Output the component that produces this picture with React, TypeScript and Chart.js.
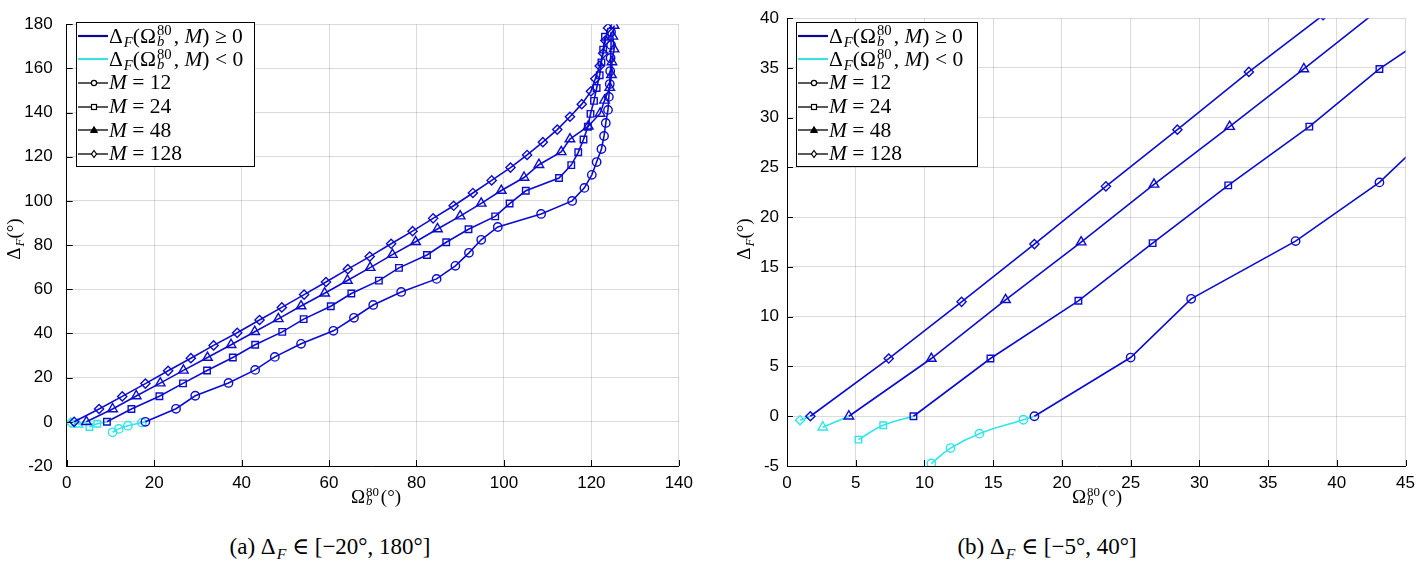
import React, { useEffect, useRef } from "react";
import { Chart, registerables } from "chart.js";
Chart.register(...registerables);

// ---------- data ----------
const m12X = [18.0, 25.0, 29.4, 37.0, 43.1, 47.6, 53.6, 61.0, 65.7, 70.1, 76.5, 84.6, 88.9, 92.0, 94.8, 98.6, 108.5, 115.6, 118.4, 120.1, 121.2, 122.3, 122.9, 123.3, 123.8, 124.0, 124.2, 124.3, 124.4, 124.5, 124.5];
const m12Y = [0, 5.9, 11.8, 17.6, 23.5, 29.4, 35.3, 41.2, 47.1, 52.9, 58.8, 64.7, 70.6, 76.5, 82.4, 88.2, 94.1, 100.0, 105.9, 111.8, 117.6, 123.5, 129.4, 135.3, 141.2, 147.1, 152.9, 158.8, 164.7, 170.6, 176.5];
const m24X = [9.2, 14.8, 21.2, 26.6, 32.1, 38.0, 43.1, 49.3, 54.2, 60.4, 65.1, 71.4, 76.0, 82.4, 86.8, 91.9, 98.0, 101.3, 105.0, 112.6, 115.4, 117.0, 118.2, 119.2, 119.8, 120.6, 121.2, 121.9, 122.3, 122.7, 123.1];
const m24Y = [0, 5.8, 11.6, 17.4, 23.2, 29.1, 34.9, 40.7, 46.5, 52.3, 58.1, 63.9, 69.7, 75.5, 81.3, 87.2, 93.0, 98.8, 104.6, 110.4, 116.2, 122.0, 127.8, 133.6, 139.4, 145.3, 151.1, 156.9, 162.7, 168.5, 174.3];
const m48X = [4.5, 10.5, 15.9, 21.4, 26.7, 32.2, 37.6, 43.0, 48.4, 53.6, 59.0, 64.2, 69.4, 74.5, 79.8, 84.8, 90.0, 94.8, 99.4, 104.6, 108.0, 113.1, 115.1, 119.3, 122.0, 123.0, 124.2, 124.6, 124.7, 125.2, 124.9, 125.2];
const m48Y = [0, 5.8, 11.7, 17.5, 23.3, 29.1, 34.9, 40.8, 46.6, 52.4, 58.2, 64.0, 69.8, 75.7, 81.5, 87.3, 93.1, 98.9, 104.7, 110.6, 116.4, 122.2, 128.0, 133.8, 139.6, 145.5, 151.3, 157.1, 162.9, 168.7, 174.5, 179.4];
const m128X = [1.7, 7.4, 12.7, 18.0, 23.2, 28.4, 33.6, 39.0, 44.1, 49.2, 54.3, 59.3, 64.3, 69.3, 74.2, 79.1, 83.8, 88.5, 92.9, 97.2, 101.5, 105.3, 108.9, 112.2, 115.1, 117.8, 119.9, 120.9, 121.9, 122.7, 123.2, 123.8];
const m128Y = [0, 5.8, 11.5, 17.3, 23.1, 28.8, 34.6, 40.3, 46.1, 51.8, 57.6, 63.3, 69.1, 74.8, 80.6, 86.3, 92.1, 97.8, 103.6, 109.3, 115.1, 120.8, 126.6, 132.3, 138.1, 143.8, 149.6, 155.3, 161.1, 166.8, 172.6, 178.3];

const m12NegX = [10.5, 11.9, 14.0, 17.2, 18.0];
const m12NegY = [-4.75, -3.2, -1.75, -0.35, 0];
const m24NegX = [5.2, 7.0, 9.2];
const m24NegY = [-2.35, -0.9, 0];
const m48NegX = [2.6, 4.5];
const m48NegY = [-1.1, 0];
const m128NegX = [0.95, 1.7];
const m128NegY = [-0.4, 0];

const leftXTicks = [0, 20, 40, 60, 80, 100, 120, 140];
const leftYTicks = [-20, 0, 20, 40, 60, 80, 100, 120, 140, 160, 180];
const rightXTicks = [0, 5, 10, 15, 20, 25, 30, 35, 40, 45];
const rightYTicks = [-5, 0, 5, 10, 15, 20, 25, 30, 35, 40];

const mLabels = ["12", "24", "48", "128"];

// ---------- styles ----------
const BLUE = "#0c0cd0";
const CYAN = "#30e6e6";
const LEG_BLUE = "#0a0a90";
const LEG_CYAN = "#40e0e0";
const GRID = "rgba(0,0,0,0.14)";
const SERIF = '"Liberation Serif", "DejaVu Serif", serif';
const SANS = '"Liberation Sans", Arial, sans-serif';

const series = [
  { x: m12X, y: m12Y, nx: m12NegX, ny: m12NegY, style: "circle", r: 4.2 },
  { x: m24X, y: m24Y, nx: m24NegX, ny: m24NegY, style: "rect", r: 4.6 },
  { x: m48X, y: m48Y, nx: m48NegX, ny: m48NegY, style: "triangle", r: 5.5 },
  { x: m128X, y: m128Y, nx: m128NegX, ny: m128NegY, style: "rectRot", r: 4.6 },
];

const inwardTicks = {
  id: "inwardTicks",
  afterDraw(chart: any) {
    const { ctx, chartArea: a, scales } = chart;
    ctx.save();
    ctx.strokeStyle = "#000";
    ctx.lineWidth = 1;
    ctx.beginPath();
    scales.x.ticks.forEach((t: any) => {
      const px = Math.round(scales.x.getPixelForValue(t.value)) + 0.5;
      ctx.moveTo(px, a.bottom);
      ctx.lineTo(px, a.bottom - 6);
    });
    scales.y.ticks.forEach((t: any) => {
      const py = Math.round(scales.y.getPixelForValue(t.value)) + 0.5;
      ctx.moveTo(a.left, py);
      ctx.lineTo(a.left + 6, py);
    });
    ctx.stroke();
    ctx.restore();
  },
};

function buildConfig(xmin: number, xmax: number, xt: number[], ymin: number, ymax: number, yt: number[], yAxisW: number, labelPad: number, padRight: number) {
  const datasets: any[] = [];
  series.forEach((s) => {
    datasets.push({
      data: s.x.map((x, i) => ({ x, y: s.y[i] })),
      showLine: true,
      borderColor: BLUE,
      borderWidth: 1.6,
      pointStyle: s.style,
      pointRadius: s.r,
      pointBorderColor: BLUE,
      pointBackgroundColor: "rgba(0,0,0,0)",
      pointBorderWidth: 1.4,
      tension: 0,
      order: 0,
    });
  });
  series.forEach((s) => {
    const n = s.nx.length;
    datasets.push({
      data: s.nx.map((x, i) => ({ x, y: s.ny[i] })),
      showLine: true,
      borderColor: CYAN,
      borderWidth: 1.6,
      pointStyle: s.style,
      pointRadius: (c: any) => (c.dataIndex === n - 1 ? 0 : s.r),
      pointBorderColor: CYAN,
      pointBackgroundColor: "rgba(0,0,0,0)",
      pointBorderWidth: 1.4,
      tension: 0.4,
      order: 1,
    });
  });
  return {
    type: "scatter",
    data: { datasets },
    plugins: [inwardTicks],
    options: {
      animation: false,
      responsive: false,
      events: [],
      layout: { padding: { top: 12, right: padRight, left: 0, bottom: 0 } },
      plugins: { legend: { display: false }, tooltip: { enabled: false } },
      scales: {
        x: {
          type: "linear",
          min: xmin,
          max: xmax,
          afterFit: (sc: any) => { sc.height = 54; },
          afterBuildTicks: (sc: any) => { sc.ticks = xt.map((v) => ({ value: v })); },
          grid: { color: GRID, lineWidth: 1, drawTicks: false },
          border: { color: "#000", width: 1 },
          ticks: { color: "#000", font: { family: SANS, size: 17 }, padding: 7, maxRotation: 0, autoSkip: false },
        },
        y: {
          type: "linear",
          min: ymin,
          max: ymax,
          afterFit: (sc: any) => { sc.width = yAxisW; },
          afterBuildTicks: (sc: any) => { sc.ticks = yt.map((v) => ({ value: v })); },
          grid: { color: GRID, lineWidth: 1, drawTicks: false },
          border: { color: "#000", width: 1 },
          ticks: { color: "#000", font: { family: SANS, size: 17 }, padding: labelPad, autoSkip: false },
        },
      },
    },
  };
}

function SubSup({ sub, sup }: { sub: string; sup: string }) {
  return (
    <span style={{ position: "relative", display: "inline-block", width: "0.78em", height: "1em", verticalAlign: "baseline", marginLeft: 1 }}>
      <span style={{ position: "absolute", left: 0, bottom: "0.3em", fontSize: "0.68em", lineHeight: 1 }}>{sup}</span>
      <span style={{ position: "absolute", left: 0, bottom: "-0.4em", fontSize: "0.68em", lineHeight: 1, fontStyle: "italic" }}>{sub}</span>
    </span>
  );
}

function Sub({ t }: { t: string }) {
  return <span style={{ fontStyle: "italic", fontSize: "0.68em", verticalAlign: "-0.3em", marginLeft: 1 }}>{t}</span>;
}

function Marker({ kind }: { kind: string }) {
  const cx = 17, cy = 12;
  let m: any = null;
  if (kind === "circle") m = <circle cx={cx} cy={cy} r={2.6} fill="#fff" stroke="#000" strokeWidth={1.2} />;
  if (kind === "rect") m = <rect x={cx - 2.5} y={cy - 2.5} width={5} height={5} fill="#fff" stroke="#000" strokeWidth={1.2} />;
  if (kind === "triangle") m = <polygon points={`${cx},${cy - 3.5} ${cx + 3.5},${cy + 2.5} ${cx - 3.5},${cy + 2.5}`} fill="#000" stroke="#000" strokeWidth={1} />;
  if (kind === "rectRot") m = <polygon points={`${cx},${cy - 3.5} ${cx + 2.5},${cy} ${cx},${cy + 3.5} ${cx - 2.5},${cy}`} fill="#fff" stroke="#000" strokeWidth={1.2} />;
  return (
    <svg width={32} height={24} style={{ flex: "none" }}>
      <line x1={1} y1={12} x2={31} y2={12} stroke="#000" strokeWidth={1.3} />
      {m}
    </svg>
  );
}

function Legend({ left, top, width }: { left: number; top: number; width: number }) {
  const rowH = 23.6;
  const rows: any[] = [
    { line: LEG_BLUE, text: <span>Δ<Sub t="F" />(Ω<SubSup sub="b" sup="80" />, <i>M</i>) ≥ 0</span> },
    { line: LEG_CYAN, text: <span>Δ<Sub t="F" />(Ω<SubSup sub="b" sup="80" />, <i>M</i>) &lt; 0</span> },
  ];
  series.forEach((s, i) => rows.push({ marker: s.style, text: <span><i>M</i> = {mLabels[i]}</span> }));
  return (
    <div style={{ position: "absolute", left, top, width, height: 145, border: "1px solid #000", background: "#fff", boxSizing: "border-box", font: `21.5px ${SERIF}`, color: "#000" }}>
      {rows.map((r, i) => (
        <div key={i} style={{ position: "absolute", left: 0, top: 1 + i * rowH, height: rowH, display: "flex", alignItems: "center", whiteSpace: "nowrap" }}>
          {r.marker ? (
            <Marker kind={r.marker} />
          ) : (
            <svg width={32} height={24} style={{ flex: "none" }}>
              <line x1={1} y1={12} x2={31} y2={12} stroke={r.line} strokeWidth={2.2} />
            </svg>
          )}
          {r.text}
        </div>
      ))}
    </div>
  );
}

function Panel({ left, width, config }: { left: number; width: number; config: any }) {
  const ref = useRef<HTMLCanvasElement>(null);
  useEffect(() => {
    const ch = new Chart(ref.current as HTMLCanvasElement, config);
    return () => ch.destroy();
  }, []);
  return <canvas ref={ref} width={width} height={520} style={{ position: "absolute", left, top: 0, width, height: 520 }} />;
}

export default function App() {
  const leftCfg = buildConfig(0, 140, leftXTicks, -20, 180, leftYTicks, 66.7, 14, 15);
  const rightCfg = buildConfig(0, 45, rightXTicks, -5, 40, rightYTicks, 67, 8, 15);
  const yTitle = (cx: number) => (
    <div style={{ position: "absolute", left: cx - 40, top: 239 - 12, width: 80, height: 24, textAlign: "center", transform: "rotate(-90deg)", font: `19px ${SERIF}`, lineHeight: "24px" }}>
      Δ<Sub t="F" />(°)
    </div>
  );
  const xTitle = (cx: number) => (
    <div style={{ position: "absolute", left: cx - 60, top: 484, width: 120, height: 26, textAlign: "center", font: `19px ${SERIF}`, lineHeight: "26px" }}>
      Ω<SubSup sub="b" sup="80" />(°)
    </div>
  );
  return (
    <div style={{ position: "absolute", left: 0, top: 0, width: 1422, height: 568, background: "#fff", overflow: "hidden" }}>
      <Panel left={0} width={700} config={leftCfg} />
      <Panel left={720} width={702} config={rightCfg} />
      <Legend left={76} top={22} width={179} />
      <Legend left={796} top={22} width={182} />
      {yTitle(14)}
      {yTitle(744)}
      {xTitle(376)}
      {xTitle(1097)}
      <div style={{ position: "absolute", left: 160, top: 532, width: 340, textAlign: "center", font: `23px ${SERIF}`, lineHeight: "30px" }}>
        (a) Δ<Sub t="F" /> ∈ [−20°, 180°]
      </div>
      <div style={{ position: "absolute", left: 877, top: 532, width: 340, textAlign: "center", font: `23px ${SERIF}`, lineHeight: "30px" }}>
        (b) Δ<Sub t="F" /> ∈ [−5°, 40°]
      </div>
    </div>
  );
}
